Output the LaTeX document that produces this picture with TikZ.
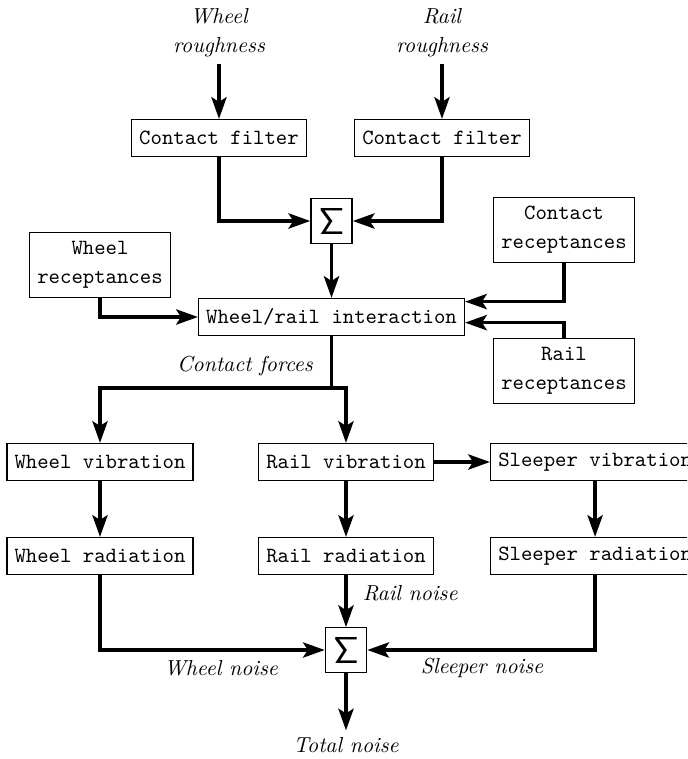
\documentclass[tikz,border=0pt]{standalone}
\usetikzlibrary{arrows.meta,calc}

\tikzset{
  blk/.style={draw, line width=0.6pt, font=\ttfamily, inner xsep=3.5pt, inner ysep=3pt, minimum height=17pt},
  blktwo/.style={blk, align=center, inner ysep=4pt, minimum height=29.5pt},
  sumbox/.style={draw, line width=0.6pt, inner sep=0pt, minimum width=19pt, minimum height=20.5pt, font=\LARGE},
  lbl/.style={font=\itshape, align=center, inner sep=3pt},
  flow/.style={line width=1.7pt, -{Stealth[length=10pt,width=7pt,inset=2.2pt]}},
  wire/.style={line width=1.7pt}
}

\begin{document}
\begin{tikzpicture}[x=0.4608pt, y=-0.4608pt]
  \useasboundingbox (0,0) rectangle (687,759);
  \clip (0,0) rectangle (687,759);

  % inputs and contact filters
  \node[lbl] (wrough) at (219,33) {Wheel\\[1.5pt]roughness};
  \node[lbl] (rrough) at (442,33) {Rail\\[1.5pt]roughness};
  \node[blk] (cfw) at (219,138) {Contact filter};
  \node[blk] (cfr) at (442,138) {Contact filter};
  \node[sumbox] (suma) at (331.5,221) {$\mathsf{\Sigma}$};

  % interaction block and receptances
  \node[blktwo] (crec) at (564,230) {Contact\\[1.5pt]receptances};
  \node[blktwo] (wrec) at (100,265) {Wheel\\[1.5pt]receptances};
  \node[blk] (wri) at (331.5,317) {Wheel/rail interaction};
  \node[blktwo] (rrec) at (564,371) {Rail\\[1.5pt]receptances};

  % vibration and radiation
  \node[blk] (wv) at (100,462) {Wheel vibration};
  \node[blk] (rv) at (346,462) {Rail vibration};
  \node[blk, anchor=west] (sv) at (490,462) {Sleeper vibration};
  \node[blk] (wrad) at (100,556) {Wheel radiation};
  \node[blk] (rrad) at (346,556) {Rail radiation};
  \node[blk, anchor=west] (srad) at (490,556) {Sleeper radiation};
  \node[sumbox] (sumb) at (346,650) {$\mathsf{\Sigma}$};
  \node[lbl] (tot) at (346,745) {Total noise};

  % labels on connectors
  \node[lbl] (cforce) at (245,366) {Contact forces};
  \node[lbl, anchor=west] (rnoise) at (356,593) {Rail noise};
  \node[lbl] (wnoise) at (221,668) {Wheel noise};
  \node[lbl] (snoise) at (482,668) {Sleeper noise};

  \coordinate (split) at (331.5,388);

  % connectors
  \draw[flow] (wrough.south) -- (cfw.north);
  \draw[flow] (rrough.south) -- (cfr.north);
  \draw[flow] (cfw.south) |- (suma.west);
  \draw[flow] (cfr.south) |- (suma.east);
  \draw[flow] (suma.south) -- (wri.north);
  \draw[flow] (wrec.south) |- (wri.west);
  \draw[flow] (crec.south) |- ([yshift=7.1pt]wri.east);
  \draw[flow] (rrec.north) |- ([yshift=-2.6pt]wri.east);

  \draw[wire] (wri.south) -- (split);
  \draw[flow] (split) -| (wv.north);
  \draw[flow] (split) -| (rv.north);

  \draw[flow] (rv.east) -- (sv.west);
  \draw[flow] (wv.south) -- (wrad.north);
  \draw[flow] (rv.south) -- (rrad.north);
  \draw[flow] (sv.south) -- (srad.north);

  \draw[flow] (wrad.south) |- (sumb.west);
  \draw[flow] (rrad.south) -- (sumb.north);
  \draw[flow] (srad.south) |- (sumb.east);
  \draw[flow] (sumb.south) -- (tot.north);
\end{tikzpicture}
\end{document}
